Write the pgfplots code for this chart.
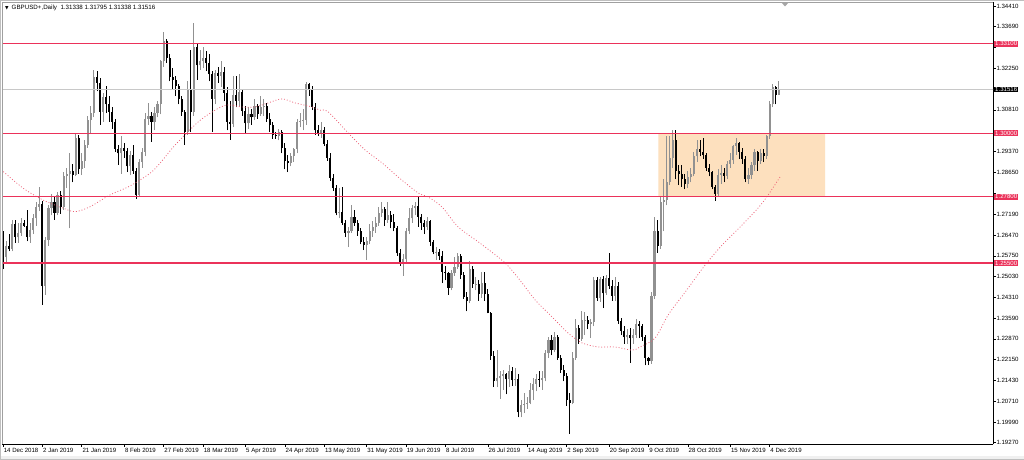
\documentclass[border=0pt]{standalone}
\usepackage{pgfplots}
\pgfplotsset{compat=1.18}
\usepackage{pgfplotstable}
\usepackage{fontspec}
\setmainfont{Liberation Sans}
\newfontfamily\dejavu{DejaVu Sans}
\definecolor{crim}{RGB}{235,50,90}
\definecolor{maline}{RGB}{236,96,118}
\definecolor{peach}{RGB}{253,224,190}
\definecolor{upcol}{RGB}{145,145,145}
\definecolor{pricegray}{RGB}{200,200,200}
\definecolor{framegray}{RGB}{160,160,160}

\pgfplotstableread{
i o h l c
0 1.2645 1.2660 1.2530 1.2570
1 1.2570 1.2625 1.2555 1.2610
2 1.2610 1.2650 1.2590 1.2600
3 1.2600 1.2700 1.2590 1.2685
4 1.2685 1.2700 1.2620 1.2640
5 1.2640 1.2690 1.2620 1.2655
6 1.2655 1.2705 1.2645 1.2690
7 1.2690 1.2700 1.2675 1.2680
8 1.2680 1.2735 1.2625 1.2640
9 1.2640 1.2690 1.2620 1.2665
10 1.2665 1.2720 1.2650 1.2705
11 1.2705 1.2760 1.2680 1.2745
12 1.2745 1.2815 1.2730 1.2755
13 1.2755 1.2765 1.2405 1.2470
14 1.2470 1.2640 1.2440 1.2630
15 1.2630 1.2750 1.2610 1.2740
16 1.2740 1.2790 1.2715 1.2760
17 1.2760 1.2780 1.2700 1.2725
18 1.2725 1.2795 1.2715 1.2785
19 1.2785 1.2800 1.2720 1.2745
20 1.2745 1.2865 1.2735 1.2850
21 1.2850 1.2880 1.2810 1.2860
22 1.2860 1.2930 1.2670 1.2870
23 1.2870 1.2895 1.2830 1.2855
24 1.2855 1.3000 1.2850 1.2985
25 1.2985 1.2995 1.2860 1.2875
26 1.2875 1.2930 1.2855 1.2905
27 1.2905 1.2975 1.2880 1.2960
28 1.2960 1.3060 1.2950 1.3045
29 1.3045 1.3095 1.3000 1.3070
30 1.3070 1.3218 1.3055 1.3195
31 1.3195 1.3215 1.3145 1.3175
32 1.3175 1.3190 1.3030 1.3075
33 1.3075 1.3140 1.3040 1.3125
34 1.3125 1.3165 1.3070 1.3100
35 1.3100 1.3130 1.3040 1.3075
36 1.3075 1.3090 1.3015 1.3040
37 1.3040 1.3050 1.2935 1.2945
38 1.2945 1.2960 1.2890 1.2930
39 1.2930 1.2990 1.2860 1.2950
40 1.2950 1.2965 1.2915 1.2940
41 1.2940 1.2950 1.2865 1.2885
42 1.2885 1.2940 1.2855 1.2925
43 1.2925 1.2960 1.2860 1.2870
44 1.2870 1.2880 1.2773 1.2785
45 1.2785 1.2910 1.2780 1.2900
46 1.2900 1.2950 1.2880 1.2935
47 1.2935 1.3070 1.2920 1.3050
48 1.3050 1.3105 1.3030 1.3060
49 1.3060 1.3075 1.2970 1.3040
50 1.3040 1.3090 1.3010 1.3070
51 1.3070 1.3110 1.3055 1.3100
52 1.3100 1.3255 1.3065 1.3250
53 1.3250 1.3350 1.3230 1.3320
54 1.3320 1.3325 1.3245 1.3260
55 1.3260 1.3275 1.3180 1.3195
56 1.3195 1.3225 1.3150 1.3185
57 1.3185 1.3200 1.3130 1.3165
58 1.3165 1.3170 1.3100 1.3120
59 1.3120 1.3130 1.3060 1.3075
60 1.3075 1.3080 1.2960 1.3005
61 1.3005 1.3180 1.2995 1.3150
62 1.3150 1.3290 1.3005 1.3075
63 1.3075 1.3382 1.3060 1.3300
64 1.3300 1.3310 1.3185 1.3235
65 1.3235 1.3290 1.3220 1.3250
66 1.3250 1.3300 1.3225 1.3262
67 1.3262 1.3285 1.3215 1.3245
68 1.3245 1.3275 1.3180 1.3205
69 1.3205 1.3215 1.3005 1.3118
70 1.3118 1.3220 1.3100 1.3210
71 1.3210 1.3230 1.3175 1.3200
72 1.3200 1.3250 1.3160 1.3212
73 1.3212 1.3230 1.3110 1.3140
74 1.3140 1.3160 1.3010 1.3040
75 1.3040 1.3110 1.2977 1.3032
76 1.3032 1.3197 1.3020 1.3132
77 1.3132 1.3200 1.3090 1.3112
78 1.3112 1.3205 1.3095 1.3144
79 1.3144 1.3150 1.3060 1.3077
80 1.3077 1.3095 1.3000 1.3034
81 1.3034 1.3090 1.3015 1.3066
82 1.3066 1.3085 1.3030 1.3055
83 1.3055 1.3120 1.3045 1.3093
84 1.3093 1.3100 1.3050 1.3067
85 1.3067 1.3130 1.3060 1.3090
86 1.3090 1.3120 1.3060 1.3095
87 1.3095 1.3105 1.3040 1.3050
88 1.3050 1.3070 1.3005 1.3030
89 1.3030 1.3040 1.2980 1.2994
90 1.2994 1.3005 1.2980 1.2990
91 1.2990 1.3015 1.2975 1.3003
92 1.3003 1.3010 1.2930 1.2950
93 1.2950 1.2965 1.2875 1.2905
94 1.2905 1.2925 1.2865 1.2897
95 1.2897 1.2930 1.2885 1.2920
96 1.2920 1.2950 1.2900 1.2945
97 1.2945 1.3050 1.2930 1.3040
98 1.3040 1.3070 1.3020 1.3043
99 1.3043 1.3085 1.3010 1.3046
100 1.3046 1.3178 1.3030 1.3170
101 1.3170 1.3175 1.3130 1.3150
102 1.3150 1.3165 1.3080 1.3092
103 1.3092 1.3105 1.2995 1.3010
104 1.3010 1.3030 1.2990 1.3000
105 1.3000 1.3040 1.2985 1.3012
106 1.3012 1.3020 1.2955 1.2962
107 1.2962 1.2975 1.2905 1.2915
108 1.2915 1.2930 1.2835 1.2845
109 1.2845 1.2860 1.2800 1.2810
110 1.2810 1.2820 1.2715 1.2722
111 1.2722 1.2810 1.2705 1.2726
112 1.2726 1.2815 1.2683 1.2690
113 1.2690 1.2700 1.2640 1.2655
114 1.2655 1.2675 1.2605 1.2660
115 1.2660 1.2750 1.2655 1.2709
116 1.2709 1.2735 1.2680 1.2689
117 1.2689 1.2700 1.2645 1.2661
118 1.2661 1.2670 1.2615 1.2624
119 1.2624 1.2640 1.2595 1.2613
120 1.2613 1.2640 1.2560 1.2625
121 1.2625 1.2685 1.2615 1.2660
122 1.2660 1.2695 1.2640 1.2676
123 1.2676 1.2710 1.2655 1.2690
124 1.2690 1.2745 1.2680 1.2723
125 1.2723 1.2763 1.2710 1.2739
126 1.2739 1.2745 1.2680 1.2700
127 1.2700 1.2760 1.2690 1.2717
128 1.2717 1.2730 1.2670 1.2692
129 1.2692 1.2720 1.2660 1.2673
130 1.2673 1.2680 1.2575 1.2583
131 1.2583 1.2600 1.2540 1.2550
132 1.2550 1.2580 1.2506 1.2563
133 1.2563 1.2670 1.2555 1.2660
134 1.2660 1.2740 1.2650 1.2705
135 1.2705 1.2750 1.2690 1.2741
136 1.2741 1.2760 1.2715 1.2747
137 1.2747 1.2784 1.2676 1.2710
138 1.2710 1.2720 1.2665 1.2688
139 1.2688 1.2700 1.2650 1.2675
140 1.2675 1.2710 1.2665 1.2696
141 1.2696 1.2700 1.2610 1.2623
142 1.2623 1.2630 1.2580 1.2587
143 1.2587 1.2605 1.2560 1.2589
144 1.2589 1.2600 1.2560 1.2574
145 1.2574 1.2590 1.2480 1.2520
146 1.2520 1.2540 1.2490 1.2515
147 1.2515 1.2520 1.2440 1.2465
148 1.2465 1.2525 1.2455 1.2514
149 1.2514 1.2570 1.2505 1.2536
150 1.2536 1.2585 1.2530 1.2574
151 1.2574 1.2580 1.2495 1.2510
152 1.2510 1.2520 1.2425 1.2431
153 1.2431 1.2450 1.2382 1.2417
154 1.2417 1.2556 1.2410 1.2528
155 1.2528 1.2540 1.2465 1.2477
156 1.2477 1.2500 1.2455 1.2478
157 1.2478 1.2490 1.2420 1.2443
158 1.2443 1.2520 1.2430 1.2479
159 1.2479 1.2520 1.2420 1.2444
160 1.2444 1.2460 1.2375 1.2377
161 1.2377 1.2380 1.2215 1.2228
162 1.2228 1.2245 1.2120 1.2140
163 1.2140 1.2250 1.2120 1.2150
164 1.2150 1.2175 1.2080 1.2157
165 1.2157 1.2180 1.2110 1.2165
166 1.2165 1.2170 1.2095 1.2147
167 1.2147 1.2195 1.2120 1.2177
168 1.2177 1.2190 1.2125 1.2144
169 1.2144 1.2185 1.2125 1.2148
170 1.2148 1.2165 1.2015 1.2032
171 1.2032 1.2075 1.2015 1.2057
172 1.2057 1.2100 1.2030 1.2061
173 1.2061 1.2085 1.2045 1.2065
174 1.2065 1.2135 1.2060 1.2110
175 1.2110 1.2150 1.2075 1.2131
176 1.2131 1.2165 1.2105 1.2148
177 1.2148 1.2175 1.2120 1.2145
178 1.2145 1.2175 1.2110 1.2150
179 1.2150 1.2250 1.2140 1.2237
180 1.2237 1.2295 1.2220 1.2283
181 1.2283 1.2300 1.2230 1.2250
182 1.2250 1.2310 1.2240 1.2293
183 1.2293 1.2300 1.2215 1.2220
184 1.2220 1.2230 1.2170 1.2180
185 1.2180 1.2195 1.2140 1.2157
186 1.2157 1.2170 1.2055 1.2075
187 1.2075 1.2100 1.1958 1.2063
188 1.2063 1.2240 1.2060 1.2221
189 1.2221 1.2355 1.2215 1.2325
190 1.2325 1.2335 1.2270 1.2288
191 1.2288 1.2385 1.2280 1.2353
192 1.2353 1.2380 1.2300 1.2354
193 1.2354 1.2365 1.2320 1.2339
194 1.2339 1.2355 1.2290 1.2345
195 1.2345 1.2500 1.2330 1.2492
196 1.2492 1.2500 1.2420 1.2430
197 1.2430 1.2500 1.2415 1.2493
198 1.2493 1.2505 1.2394 1.2445
199 1.2445 1.2510 1.2440 1.2498
200 1.2498 1.2585 1.2460 1.2472
201 1.2472 1.2490 1.2420 1.2436
202 1.2436 1.2500 1.2420 1.2469
203 1.2469 1.2485 1.2340 1.2350
204 1.2350 1.2360 1.2300 1.2315
205 1.2315 1.2330 1.2270 1.2293
206 1.2293 1.2320 1.2270 1.2300
207 1.2300 1.2325 1.2205 1.2290
208 1.2290 1.2320 1.2270 1.2300
209 1.2300 1.2355 1.2290 1.2340
210 1.2340 1.2350 1.2290 1.2331
211 1.2331 1.2340 1.2280 1.2294
212 1.2294 1.2300 1.2195 1.2220
213 1.2220 1.2225 1.2196 1.2210
214 1.2210 1.2450 1.2200 1.2435
215 1.2435 1.2708 1.2425 1.2660
216 1.2660 1.2700 1.2585 1.2610
217 1.2610 1.2780 1.2600 1.2760
218 1.2760 1.2840 1.2660 1.2770
219 1.2770 1.2990 1.2750 1.2830
220 1.2830 1.2989 1.2820 1.2915
221 1.2915 1.3012 1.2880 1.2975
222 1.2975 1.3010 1.2840 1.2870
223 1.2870 1.2890 1.2820 1.2860
224 1.2860 1.2890 1.2815 1.2840
225 1.2840 1.2860 1.2805 1.2825
226 1.2825 1.2870 1.2810 1.2848
227 1.2848 1.2880 1.2830 1.2860
228 1.2860 1.2935 1.2850 1.2920
229 1.2920 1.2975 1.2900 1.2945
230 1.2945 1.2975 1.2920 1.2935
231 1.2935 1.2985 1.2910 1.2925
232 1.2925 1.2930 1.2870 1.2880
233 1.2880 1.2895 1.2850 1.2865
234 1.2865 1.2870 1.2805 1.2815
235 1.2815 1.2820 1.2766 1.2790
236 1.2790 1.2875 1.2780 1.2855
237 1.2855 1.2890 1.2825 1.2862
238 1.2862 1.2880 1.2830 1.2852
239 1.2852 1.2905 1.2840 1.2893
240 1.2893 1.2930 1.2880 1.2906
241 1.2906 1.2960 1.2895 1.2955
242 1.2955 1.2985 1.2925 1.2965
243 1.2965 1.2970 1.2910 1.2935
244 1.2935 1.2950 1.2895 1.2910
245 1.2910 1.2920 1.2830 1.2840
246 1.2840 1.2880 1.2825 1.2856
247 1.2856 1.2900 1.2840 1.2890
248 1.2890 1.2945 1.2870 1.2935
249 1.2935 1.2940 1.2870 1.2905
250 1.2905 1.2945 1.2895 1.2930
251 1.2930 1.2945 1.2900 1.2920
252 1.2920 1.2995 1.2910 1.2990
253 1.2990 1.3110 1.2980 1.3100
254 1.3100 1.3170 1.3090 1.3160
255 1.3160 1.3165 1.3100 1.3134
256 1.31338 1.31795 1.31338 1.31516
}\ohlc

\pgfplotstableread{
i ma
0.1 1.2867
6.7 1.2809
13.3 1.2768
19.9 1.2740
23.8 1.2728
28.7 1.2745
35.3 1.2786
41.9 1.2817
48.5 1.2861
51.8 1.2896
56.8 1.2959
64.4 1.3039
70.0 1.3080
73.9 1.3098
78.9 1.3091
83.2 1.3091
87.5 1.3105
92.1 1.3119
96.4 1.3105
102.0 1.3091
104.6 1.3080
107.3 1.3074
113.9 1.3001
119.5 1.2942
125.1 1.2897
130.4 1.2848
137.0 1.2793
140.3 1.2779
144.9 1.2744
150.2 1.2675
157.4 1.2619
165.7 1.2550
171.3 1.2481
175.6 1.2422
181.2 1.2363
186.5 1.2307
191.1 1.2273
196.4 1.2259
202.0 1.2259
207.6 1.2248
210.2 1.2259
215.2 1.2290
219.5 1.2370
225.1 1.2449
231.7 1.2543
237.3 1.2612
243.9 1.2682
249.2 1.2741
252.5 1.2786
256.4 1.2848
}\mavals

\begin{document}
\begin{tikzpicture}[x=1pt,y=1pt]
\fill[white] (0,0) rectangle (1024,459);
\fill[black!6] (0,0) rectangle (1024,3.5);
\begin{axis}[name=main, at={(2pt,14.7pt)}, anchor=south west,
  scale only axis, width=991pt, height=442.3pt,
  xmin=-0.33, xmax=326.7, ymin=1.19215, ymax=1.34549,
  axis x line=bottom, axis y line=right,
  axis line style={-, black, line width=0.8pt},
  x axis line style={-}, y axis line style={-},
  tick align=outside, major tick length=2.5pt,
  tick style={black, line width=0.6pt},
  xtick={0,13,26,40,53,66,80,93,106,120,133,146,160,173,186,200,213,226,240,253},
  xticklabels={14 Dec 2018,2 Jan 2019,21 Jan 2019,8 Feb 2019,27 Feb 2019,18 Mar 2019,5 Apr 2019,24 Apr 2019,13 May 2019,31 May 2019,19 Jun 2019,8 Jul 2019,26 Jul 2019,14 Aug 2019,2 Sep 2019,20 Sep 2019,9 Oct 2019,28 Oct 2019,15 Nov 2019,4 Dec 2019},
  ytick={1.19270,1.19990,1.20710,1.21430,1.22150,1.22870,1.23590,1.24310,1.25030,1.25750,1.26470,1.27190,1.27910,1.28650,1.29370,1.30090,1.30810,1.31530,1.32250,1.32970,1.33690,1.34410},
  yticklabels={1.19270,1.19990,1.20710,1.21430,1.22150,1.22870,1.23590,1.24310,1.25030,1.25750,1.26470,1.27190,{},1.28650,1.29370,{},1.30810,{},1.32250,{},1.33690,1.34410},
  tick label style={font=\fontsize{6.1}{7}\selectfont, text=black},
  xticklabel style={anchor=north west, inner sep=0pt, xshift=0.6pt, yshift=-1.2pt},
  yticklabel style={anchor=west, inner sep=0pt, xshift=0.8pt},
]
% consolidation box
\addplot[fill=peach, draw=none, forget plot] coordinates {(216.3,1.278) (271.3,1.278) (271.3,1.300) (216.3,1.300) (216.3,1.278)};
% wicks
\addplot[draw=none, forget plot, restrict expr to domain={\thisrow{c}-\thisrow{o}}{0.000001:1},
  error bars/.cd, y dir=plus, y explicit, error mark=none,
  error bar style={line width=0.85pt, upcol}]
  table[x=i, y=l, y error plus expr=\thisrow{h}-\thisrow{l}] {\ohlc};
\addplot[draw=none, forget plot, restrict expr to domain={\thisrow{c}-\thisrow{o}}{-1:0},
  error bars/.cd, y dir=plus, y explicit, error mark=none,
  error bar style={line width=0.85pt, black}]
  table[x=i, y=l, y error plus expr=\thisrow{h}-\thisrow{l}] {\ohlc};
% bodies
\addplot[draw=none, forget plot, restrict expr to domain={\thisrow{c}-\thisrow{o}}{0.000001:1},
  error bars/.cd, y dir=plus, y explicit, error mark=none,
  error bar style={line width=2.1pt, upcol}]
  table[x=i, y=o, y error plus expr=\thisrow{c}-\thisrow{o}] {\ohlc};
\addplot[draw=none, forget plot, restrict expr to domain={\thisrow{c}-\thisrow{o}}{-1:0},
  error bars/.cd, y dir=plus, y explicit, error mark=none,
  error bar style={line width=2.1pt, black}]
  table[x=i, y=c, y error plus expr=\thisrow{o}-\thisrow{c}] {\ohlc};
% moving average
\addplot[maline, line width=0.75pt, dash pattern=on 0.9pt off 2pt, smooth, forget plot] table[x=i, y=ma] {\mavals};
% levels
\addplot[pricegray, line width=0.8pt, forget plot] coordinates {(-5,1.31516) (330,1.31516)};
\addplot[crim, line width=1.2pt, forget plot] coordinates {(-5,1.3310) (330,1.3310)};
\addplot[crim, line width=1.2pt, forget plot] coordinates {(-5,1.3000) (330,1.3000)};
\addplot[crim, line width=1.2pt, forget plot] coordinates {(-5,1.2780) (330,1.2780)};
\addplot[crim, line width=1.2pt, forget plot] coordinates {(-5,1.2550) (330,1.2550)};
\coordinate (b1) at (axis cs:326.7,1.3310);
\coordinate (b2) at (axis cs:326.7,1.3000);
\coordinate (b3) at (axis cs:326.7,1.2780);
\coordinate (b4) at (axis cs:326.7,1.2550);
\coordinate (b5) at (axis cs:326.7,1.31516);
\end{axis}
\draw[framegray, line width=0.6pt] (main.south west) -- (main.north west) -- (main.north east);
\draw[framegray, line width=0.6pt] (0.4,14.7) -- (0.4,458.6);
\draw[black!25, line width=0.5pt] (0.25,0.25) rectangle (1023.75,458.75);
\foreach \n/\t in {b1/1.33100,b2/1.30000,b3/1.27800,b4/1.25500}
  \node[fill=crim, text=white, anchor=west, inner xsep=0.8pt, inner ysep=0.7pt, xshift=1.2pt, font=\fontsize{6.1}{7}\selectfont] at (\n) {\t};
\node[fill=black, text=white, anchor=west, inner xsep=0.8pt, inner ysep=0.7pt, xshift=1.2pt, font=\fontsize{6.1}{7}\selectfont] at (b5) {1.31516};
\node[anchor=north west, inner sep=0pt, font=\fontsize{6.2}{7}\selectfont] at ([xshift=3pt,yshift=-2.7pt]main.north west) {{\dejavu\fontsize{4.6}{5}\selectfont ▼}\hspace{3pt}GBPUSD+,Daily\hspace{3.5pt}1.31338 1.31795 1.31338 1.31516};
\fill[black!35] (781.5,456.5) -- (788.5,456.5) -- (785,452.5) -- cycle;
\end{tikzpicture}
\end{document}
